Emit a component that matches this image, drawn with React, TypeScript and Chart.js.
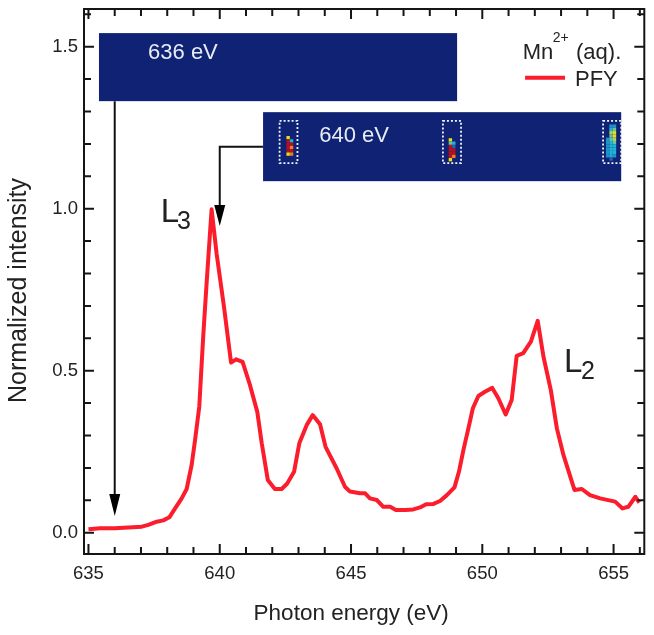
import React, { useEffect, useRef } from "react";
import { Chart, registerables } from "chart.js";

Chart.register(...registerables);

const FONT = '"Liberation Sans", Arial, sans-serif';

const energies = [
  635, 635.44, 636, 637.03, 637.28, 637.6, 637.85, 638.08, 638.3, 638.55, 638.74, 638.93, 639.06, 639.22, 639.37, 639.5,
  639.69, 639.88, 640.16, 640.43, 640.62, 640.87, 641.15, 641.43, 641.6, 641.83, 642.1, 642.36, 642.57, 642.83, 643.03,
  643.31, 643.54, 643.82, 644.03, 644.45, 644.77, 644.96, 645.34, 645.53, 645.72, 645.98, 646.23, 646.49, 646.71, 647.06,
  647.37, 647.63, 647.86, 648.14, 648.39, 648.65, 648.94, 649.11, 649.28, 649.47, 649.64, 649.85, 650.1, 650.38, 650.61,
  650.89, 651.12, 651.31, 651.56, 651.85, 652.11, 652.33, 652.61, 652.84, 653.09, 653.51, 653.79, 654.1, 654.49, 655.06,
  655.34, 655.56, 655.83, 655.98,
];
const pfy = [
  0.0105, 0.0135, 0.0135, 0.0187, 0.024, 0.034, 0.038, 0.0475, 0.075, 0.106, 0.135, 0.209, 0.286, 0.389, 0.605, 0.77,
  0.998, 0.862, 0.698, 0.525, 0.535, 0.527, 0.456, 0.373, 0.276, 0.163, 0.135, 0.135, 0.152, 0.188, 0.276,
  0.332, 0.363, 0.335, 0.265, 0.199, 0.142, 0.127, 0.122, 0.122, 0.106, 0.101, 0.08, 0.08, 0.07, 0.07,
  0.072, 0.078, 0.088, 0.089, 0.098, 0.116, 0.14, 0.188, 0.255, 0.322, 0.384, 0.422, 0.435, 0.447, 0.415,
  0.365, 0.41, 0.546, 0.554, 0.59, 0.654, 0.543, 0.44, 0.322, 0.24, 0.132, 0.135, 0.116, 0.106, 0.096,
  0.075, 0.08, 0.111, 0.093,
];

const xRange = [634.83, 656.17];
const yRange = [-0.0657, 1.6164];
const xLabelled = [635, 640, 645, 650, 655];
const yLabelled = [0, 0.5, 1, 1.5];

// Detector-image insets, in data units: [xStart, xEnd, yTop, yBottom]
const insetRects = [
  [635.4, 649.04, 1.542, 1.332],
  [641.65, 655.29, 1.298, 1.085],
];
// Dotted boxes: [xStart, xEnd, yTop, yBottom]
const dottedBoxes = [
  [642.28, 642.96, 1.271, 1.141],
  [648.5, 649.19, 1.271, 1.141],
  [654.6, 655.29, 1.271, 1.141],
];
const palette: Record<string, string> = {
  y: "#e6e01c", r: "#b8101e", o: "#f0801c", c: "#22b4d8", b: "#1f62b8", g: "#6cc49a", t: "#1c96c8", l: "#a8d468",
};
// Heat cells: each spot has an origin (data units) and rows of colour letters
const heatOrigins = [
  [642.54, 1.2245],
  [648.72, 1.2175],
  [654.71, 1.26],
];
const heatRows = [
  ["y.", "rc", "rr", "ro", "rr", "yo"],
  ["y.", "gc", "rb", "rr", "rr", "ro", "y."],
  [".tt", ".cg", ".ly", ".gy", "tgl", "tcg", "tcc", "tcc", "tcc", "tct", ".b."],
];

type Note = [string, number, number, number, string];
const notes: Note[] = [
  ["636 eV", 637.27, 1.462, 22, "#e8ecf6"],
  ["640 eV", 643.79, 1.207, 22, "#e8ecf6"],
  ["Mn", 651.54, 1.461, 22, "#222"],
  ["2+", 652.68, 1.515, 14, "#222"],
  ["(aq).", 653.57, 1.461, 22, "#222"],
  ["PFY", 653.53, 1.38, 22, "#222"],
  ["L", 637.75, 0.96, 33, "#222"],
  ["3", 638.37, 0.937, 25, "#222"],
  ["L", 653.11, 0.497, 33, "#222"],
  ["2", 653.76, 0.474, 25, "#222"],
];
const legendLine = [651.63, 653.15, 1.404];
const arrow636 = [636, 1.332, 0.0515];
const arrow640 = [641.65, 640, 1.191, 0.947];

const shiftTitle = (scale: any, ctx: any, dx: number, dy: number) => {
  if (scale.__shifted) return;
  scale.__shifted = true;
  const original = scale.drawTitle.bind(scale);
  scale.drawTitle = () => {
    ctx.save();
    ctx.translate(dx, dy);
    original();
    ctx.restore();
  };
};

const overlay = {
  id: "overlay",
  beforeDraw(chart: any) {
    shiftTitle(chart.scales.x, chart.ctx, -13, 0);
    shiftTitle(chart.scales.y, chart.ctx, 0, 9);
  },
  beforeDatasetsDraw(chart: any) {
    const { ctx, scales: { x, y } } = chart;
    const X = (v: number) => x.getPixelForValue(v);
    const Y = (v: number) => y.getPixelForValue(v);
    ctx.save();
    insetRects.forEach(([a, b, t, u]) => {
      ctx.fillStyle = "#102273";
      ctx.fillRect(X(a), Y(t), X(b) - X(a), Y(u) - Y(t));
    });
    const cw = 3.4 / 26.25;
    const ch = 3.3 / 324;
    heatRows.forEach((rows, i) => {
      rows.forEach((row, r) => {
        row.split("").forEach((c, k) => {
          if (c === ".") return;
          ctx.fillStyle = palette[c];
          const e = heatOrigins[i][0] + k * cw;
          const v = heatOrigins[i][1] - r * ch;
          ctx.fillRect(X(e), Y(v), X(e + cw) - X(e), Y(v - ch) - Y(v));
        });
      });
    });
    ctx.strokeStyle = "#f2f4fa";
    ctx.lineWidth = 1.8;
    ctx.setLineDash([2, 2]);
    dottedBoxes.forEach(([a, b, t, u]) => ctx.strokeRect(X(a), Y(t), X(b) - X(a), Y(u) - Y(t)));
    ctx.restore();
  },
  afterDraw(chart: any) {
    const { ctx, chartArea: area, scales: { x, y } } = chart;
    const X = (v: number) => x.getPixelForValue(v);
    const Y = (v: number) => y.getPixelForValue(v);
    ctx.save();
    ctx.strokeStyle = "#151515";
    ctx.lineWidth = 2;
    ctx.strokeRect(area.left, area.top, area.width, area.height);
    x.ticks.forEach((t: any) => {
      const len = xLabelled.includes(t.value) ? 10 : 7;
      const p = X(t.value);
      ctx.beginPath();
      ctx.moveTo(p, area.bottom); ctx.lineTo(p, area.bottom - len);
      ctx.moveTo(p, area.top); ctx.lineTo(p, area.top + len);
      ctx.stroke();
    });
    y.ticks.forEach((t: any) => {
      const major = yLabelled.some((m) => Math.abs(m - t.value) < 1e-6);
      const len = major ? 10 : 7;
      const p = Y(t.value);
      ctx.beginPath();
      ctx.moveTo(area.left, p); ctx.lineTo(area.left + len, p);
      ctx.moveTo(area.right, p); ctx.lineTo(area.right - len, p);
      ctx.stroke();
    });
    // legend sample
    ctx.strokeStyle = "#fb1c2c";
    ctx.lineWidth = 4;
    ctx.beginPath();
    ctx.moveTo(X(legendLine[0]), Y(legendLine[2]));
    ctx.lineTo(X(legendLine[1]), Y(legendLine[2]));
    ctx.stroke();
    // arrows
    const head = (px: number, tip: number, h: number, w: number) => {
      ctx.fillStyle = "#000";
      ctx.beginPath();
      ctx.moveTo(px, tip);
      ctx.lineTo(px - w / 2, tip - h);
      ctx.lineTo(px + w / 2, tip - h);
      ctx.closePath();
      ctx.fill();
    };
    ctx.strokeStyle = "#111";
    ctx.lineWidth = 2;
    ctx.beginPath();
    ctx.moveTo(X(arrow636[0]), Y(arrow636[1]));
    ctx.lineTo(X(arrow636[0]), Y(arrow636[2]) - 10);
    ctx.stroke();
    head(X(arrow636[0]), Y(arrow636[2]), 22, 11);
    ctx.beginPath();
    ctx.moveTo(X(arrow640[0]), Y(arrow640[2]));
    ctx.lineTo(X(arrow640[1]), Y(arrow640[2]));
    ctx.lineTo(X(arrow640[1]), Y(arrow640[3]) - 10);
    ctx.stroke();
    head(X(arrow640[1]), Y(arrow640[3]), 21, 11);
    // text notes
    ctx.textAlign = "left";
    ctx.textBaseline = "alphabetic";
    notes.forEach(([s, e, v, size, color]) => {
      ctx.font = `${size}px ${FONT}`;
      ctx.fillStyle = color;
      ctx.fillText(s, X(e), Y(v));
    });
    ctx.restore();
  },
};

export default function App() {
  const ref = useRef<HTMLCanvasElement>(null);
  useEffect(() => {
    const chart = new Chart(ref.current!, {
      type: "line",
      data: {
        datasets: [
          {
            label: "PFY",
            data: energies.map((e, i) => ({ x: e, y: pfy[i] })),
            borderColor: "#fb1c2c",
            borderWidth: 4,
            pointRadius: 0,
            tension: 0,
            borderJoinStyle: "round",
            fill: false,
          },
        ],
      },
      options: {
        animation: false,
        responsive: false,
        layout: { padding: { top: 9, right: 9.7, left: 0, bottom: 0 } },
        plugins: { legend: { display: false }, tooltip: { enabled: false } },
        scales: {
          x: {
            type: "linear",
            min: xRange[0],
            max: xRange[1],
            grid: { display: false, drawTicks: false },
            border: { display: false },
            afterFit: (s: any) => { s.height = 81; s.paddingLeft = 0; s.paddingRight = 0; },
            title: {
              display: true,
              text: "Photon energy (eV)",
              color: "#222",
              font: { family: FONT, size: 22.5 },
              padding: { top: 0, bottom: 8 },
            },
            ticks: {
              stepSize: 1,
              includeBounds: false,
              autoSkip: false,
              maxRotation: 0,
              padding: 9,
              color: "#222",
              font: { family: FONT, size: 18.5 },
              callback: (v: any) => (xLabelled.includes(v) ? String(v) : ""),
            },
          },
          y: {
            type: "linear",
            min: yRange[0],
            max: yRange[1],
            grid: { display: false, drawTicks: false },
            border: { display: false },
            afterFit: (s: any) => { s.width = 84; s.paddingTop = 0; s.paddingBottom = 0; },
            title: {
              display: true,
              text: "Normalized intensity",
              color: "#222",
              font: { family: FONT, size: 25 },
              padding: { top: 4, bottom: 0 },
            },
            ticks: {
              stepSize: 0.1,
              includeBounds: false,
              autoSkip: false,
              padding: 6,
              color: "#222",
              font: { family: FONT, size: 18.5 },
              callback: (v: any) => (yLabelled.some((m) => Math.abs(m - v) < 1e-6) ? Number(v).toFixed(1) : ""),
            },
          },
        },
      },
      plugins: [overlay],
    } as any);
    return () => chart.destroy();
  }, []);
  return (
    <div style={{ position: "fixed", left: 0, top: 0, width: 654, height: 635, background: "#fff" }}>
      <canvas ref={ref} width={654} height={635} style={{ display: "block" }} />
    </div>
  );
}
